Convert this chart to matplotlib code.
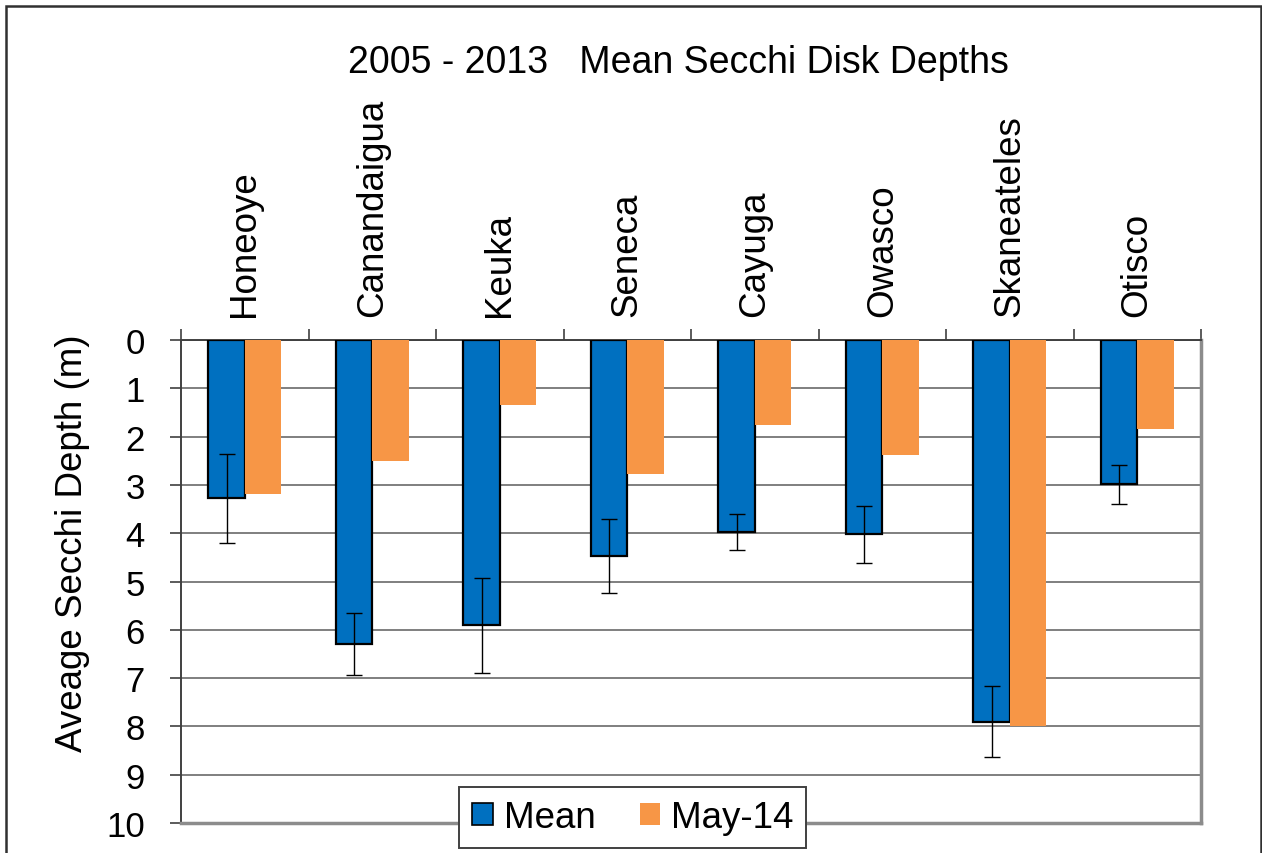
import matplotlib
matplotlib.use("Agg")
import matplotlib.pyplot as plt
import numpy as np
from matplotlib.patches import Rectangle, Patch

plt.rcParams['font.family'] = ['Liberation Sans', 'DejaVu Sans']

lakes = ["Honeoye", "Canandaigua", "Keuka", "Seneca", "Cayuga", "Owasco", "Skaneateles", "Otisco"]
mean_depth = [3.28, 6.29, 5.91, 4.47, 3.98, 4.02, 7.90, 2.99]
mean_err = [0.93, 0.64, 0.99, 0.76, 0.37, 0.59, 0.74, 0.40]
may14_depth = [3.19, 2.51, 1.35, 2.77, 1.77, 2.39, 8.00, 1.85]
y_ticks = [0, 1, 2, 3, 4, 5, 6, 7, 8, 9, 10]

BLUE = "#0070C0"
ORANGE = "#F79646"

W, H = 1262, 854
fig = plt.figure(figsize=(W / 100, H / 100), dpi=100)
ax = fig.add_axes([181 / W, 1 - 824 / H, 1020 / W, 483 / H])

x = np.arange(len(lakes))
bw = 1 / 3.5
ax.bar(x - bw / 2, mean_depth, width=bw, color=BLUE, edgecolor="black", linewidth=1.6,
       yerr=mean_err, error_kw=dict(ecolor="black", elinewidth=1.0, capsize=6, capthick=1.0),
       label="Mean", zorder=3)
ax.bar(x + bw / 2, may14_depth, width=bw, color=ORANGE, edgecolor="none", label="May-14", zorder=3)

ax.set_xlim(-0.5, len(lakes) - 0.5)
ax.set_ylim(10, 0)
ax.set_yticks(y_ticks)
ax.set_yticklabels([str(t) for t in y_ticks], fontsize=25)
ax.yaxis.grid(True, color="#7f7f7f", linewidth=1.4, zorder=0)
ax.set_axisbelow(True)

ax.xaxis.tick_top()
ax.set_xticks(x)
ax.set_xticklabels(lakes, rotation=90, fontsize=26.5)
ax.tick_params(axis="x", length=0, pad=17)
ax.set_xticks(np.arange(len(lakes) + 1) - 0.5, minor=True)
ax.tick_params(axis="x", which="minor", length=8, width=1.2, color="#404040", top=True, bottom=False)
ax.tick_params(axis="y", length=8, width=1.2, color="#404040", pad=18)

for s in ["top", "left"]:
    ax.spines[s].set_color("#404040")
    ax.spines[s].set_linewidth(1.4)
for s in ["right", "bottom"]:
    ax.spines[s].set_color("#8c8c8c")
    ax.spines[s].set_linewidth(2.5)

ax.set_ylabel("Aveage Secchi Depth (m)", fontsize=26.5)
ax.yaxis.set_label_coords(-0.089, 0.582)

fig.text(678 / W, 1 - 63 / H, "2005 - 2013   Mean Secchi Disk Depths", fontsize=27,
         ha="center", va="center")

handles = [Patch(facecolor=BLUE, edgecolor="black", linewidth=1.2, label="Mean"),
           Patch(facecolor=ORANGE, edgecolor="none", label="May-14")]
leg = ax.legend(handles=handles, loc="upper center", bbox_to_anchor=(0.443, 0.0745),
                borderaxespad=0,
                ncol=2, fontsize=26.5, frameon=True, fancybox=False, framealpha=1,
                edgecolor="#404040", handlelength=0.55, handleheight=0.55, handletextpad=0.3,
                columnspacing=1.2, borderpad=0.35)
leg.get_frame().set_linewidth(1.4)
leg.set_zorder(10)

fig.patches.append(Rectangle((6 / W, -0.05), (1261 - 6) / W, 1 - 7 / H + 0.05,
                             transform=fig.transFigure, fill=False, edgecolor="#303030",
                             linewidth=1.8, clip_on=False))

fig.savefig("out.png", dpi=100)
